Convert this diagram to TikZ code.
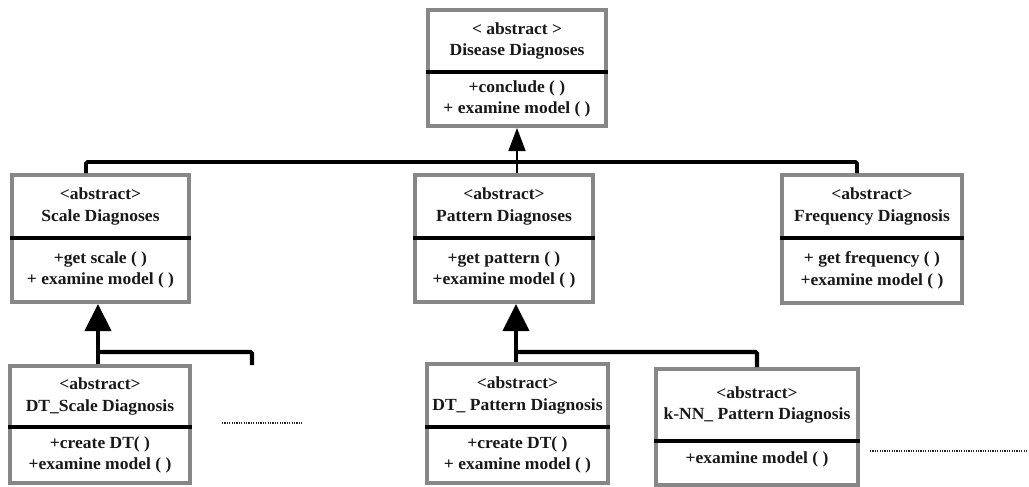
\documentclass[tikz,border=0pt]{standalone}
\usepackage{fontspec}
\setmainfont{Liberation Serif}[FakeStretch=1.03]
\usetikzlibrary{arrows.meta}
\definecolor{boxgray}{RGB}{135,135,135}
\tikzset{
  classbox/.style={draw=boxgray, line width=4pt, fill=white, inner sep=0pt, anchor=center},
  divider/.style={line width=4pt, black},
  txt/.style={font=\fontsize{17pt}{21.5pt}\selectfont\bfseries, align=center, inner sep=0pt, text=black!90},
  bus/.style={line width=3.6pt, black, rounded corners=1.5pt},
  bus2/.style={line width=4.2pt, black, rounded corners=1.5pt},
  thinarrow/.style={line width=1.5pt, black, -{Triangle[width=17pt, length=23pt]}},
  bigarrow/.style={line width=4.2pt, black, -{Triangle[width=26pt, length=27pt]}},
  dots/.style={line width=2pt, dash pattern=on 1.2pt off 1.2pt, black!85}
}
% \umlbox{name}{x1}{y1}{x2}{y2}{ydiv}{upper}{lower}
\newcommand{\umlbox}[8]{%
  \node[classbox, minimum width={#4-#2}, minimum height={#5-#3}] (#1) at ({(#2+#4)/2},{(#3+#5)/2}) {};
  \draw[divider] ({#2-2},#6) -- ({#4+2},#6);
  \node[txt] (#1-up) at ({(#2+#4)/2},{(#3+#6)/2}) {#7};
  \node[txt] (#1-low) at ({(#2+#4)/2},{(#6+#5)/2}) {#8};
}
\begin{document}
\begin{tikzpicture}[x=1pt,y=-1pt]
\useasboundingbox (0,0) rectangle (1029,487);

\umlbox{dd}{428}{10}{606}{126}{72}{< abstract >\\Disease Diagnoses}{+conclude ( )\\+ examine model ( )}
\umlbox{scale}{12}{175}{189}{302}{238}{<abstract>\\Scale Diagnoses}{+get scale ( )\\+ examine model ( )}
\umlbox{pattern}{415}{175}{593}{302}{238}{<abstract>\\Pattern Diagnoses}{+get pattern ( )\\+examine model ( )}
\umlbox{freq}{782}{175}{962}{303}{238}{<abstract>\\Frequency Diagnosis}{+ get frequency ( )\\+examine model ( )}
\umlbox{dtscale}{10}{366}{190}{483}{427}{<abstract>\\DT\_Scale Diagnosis}{+create DT( )\\+examine model ( )}
\umlbox{dtpattern}{427}{364}{608}{483}{427}{<abstract>\\DT\_ Pattern Diagnosis}{+create DT( )\\+ examine model ( )}
\umlbox{knn}{656}{369}{858}{485}{441}{<abstract>\\k-NN\_ Pattern Diagnosis}{+examine model ( )\\[-11pt]\mbox{}}

% upper hierarchy
\coordinate (busy) at (0,162);
\draw[bus] ([xshift=-14.5pt]scale.north) |- ([xshift=-15pt]freq.north |- busy) -- ([xshift=-15pt]freq.north);
\draw[thinarrow] (dd.south |- pattern.north) -- (dd.south);

% lower left hierarchy
\coordinate (lbus) at (0,352);
\coordinate (lend) at (252,365);
\draw[bigarrow] ([xshift=-2.5pt]scale.south |- dtscale.north) -- ([xshift=-2.5pt]scale.south);
\draw[bus2] ([xshift=-2.5pt]scale.south |- lbus) -| (lend);

% lower middle hierarchy
\coordinate (mx) at (516,0);
\draw[bigarrow] (mx |- dtpattern.north) -- (mx |- pattern.south);
\draw[bus2] (mx |- lbus) -| (knn.north);

% ellipses
\coordinate (d1a) at (222,423);
\coordinate (d1b) at (302,423);
\coordinate (d2a) at (870,451);
\coordinate (d2b) at (1028,451);
\draw[dots] (d1a) -- (d1b);
\draw[dots] (d2a) -- (d2b);
\end{tikzpicture}
\end{document}
